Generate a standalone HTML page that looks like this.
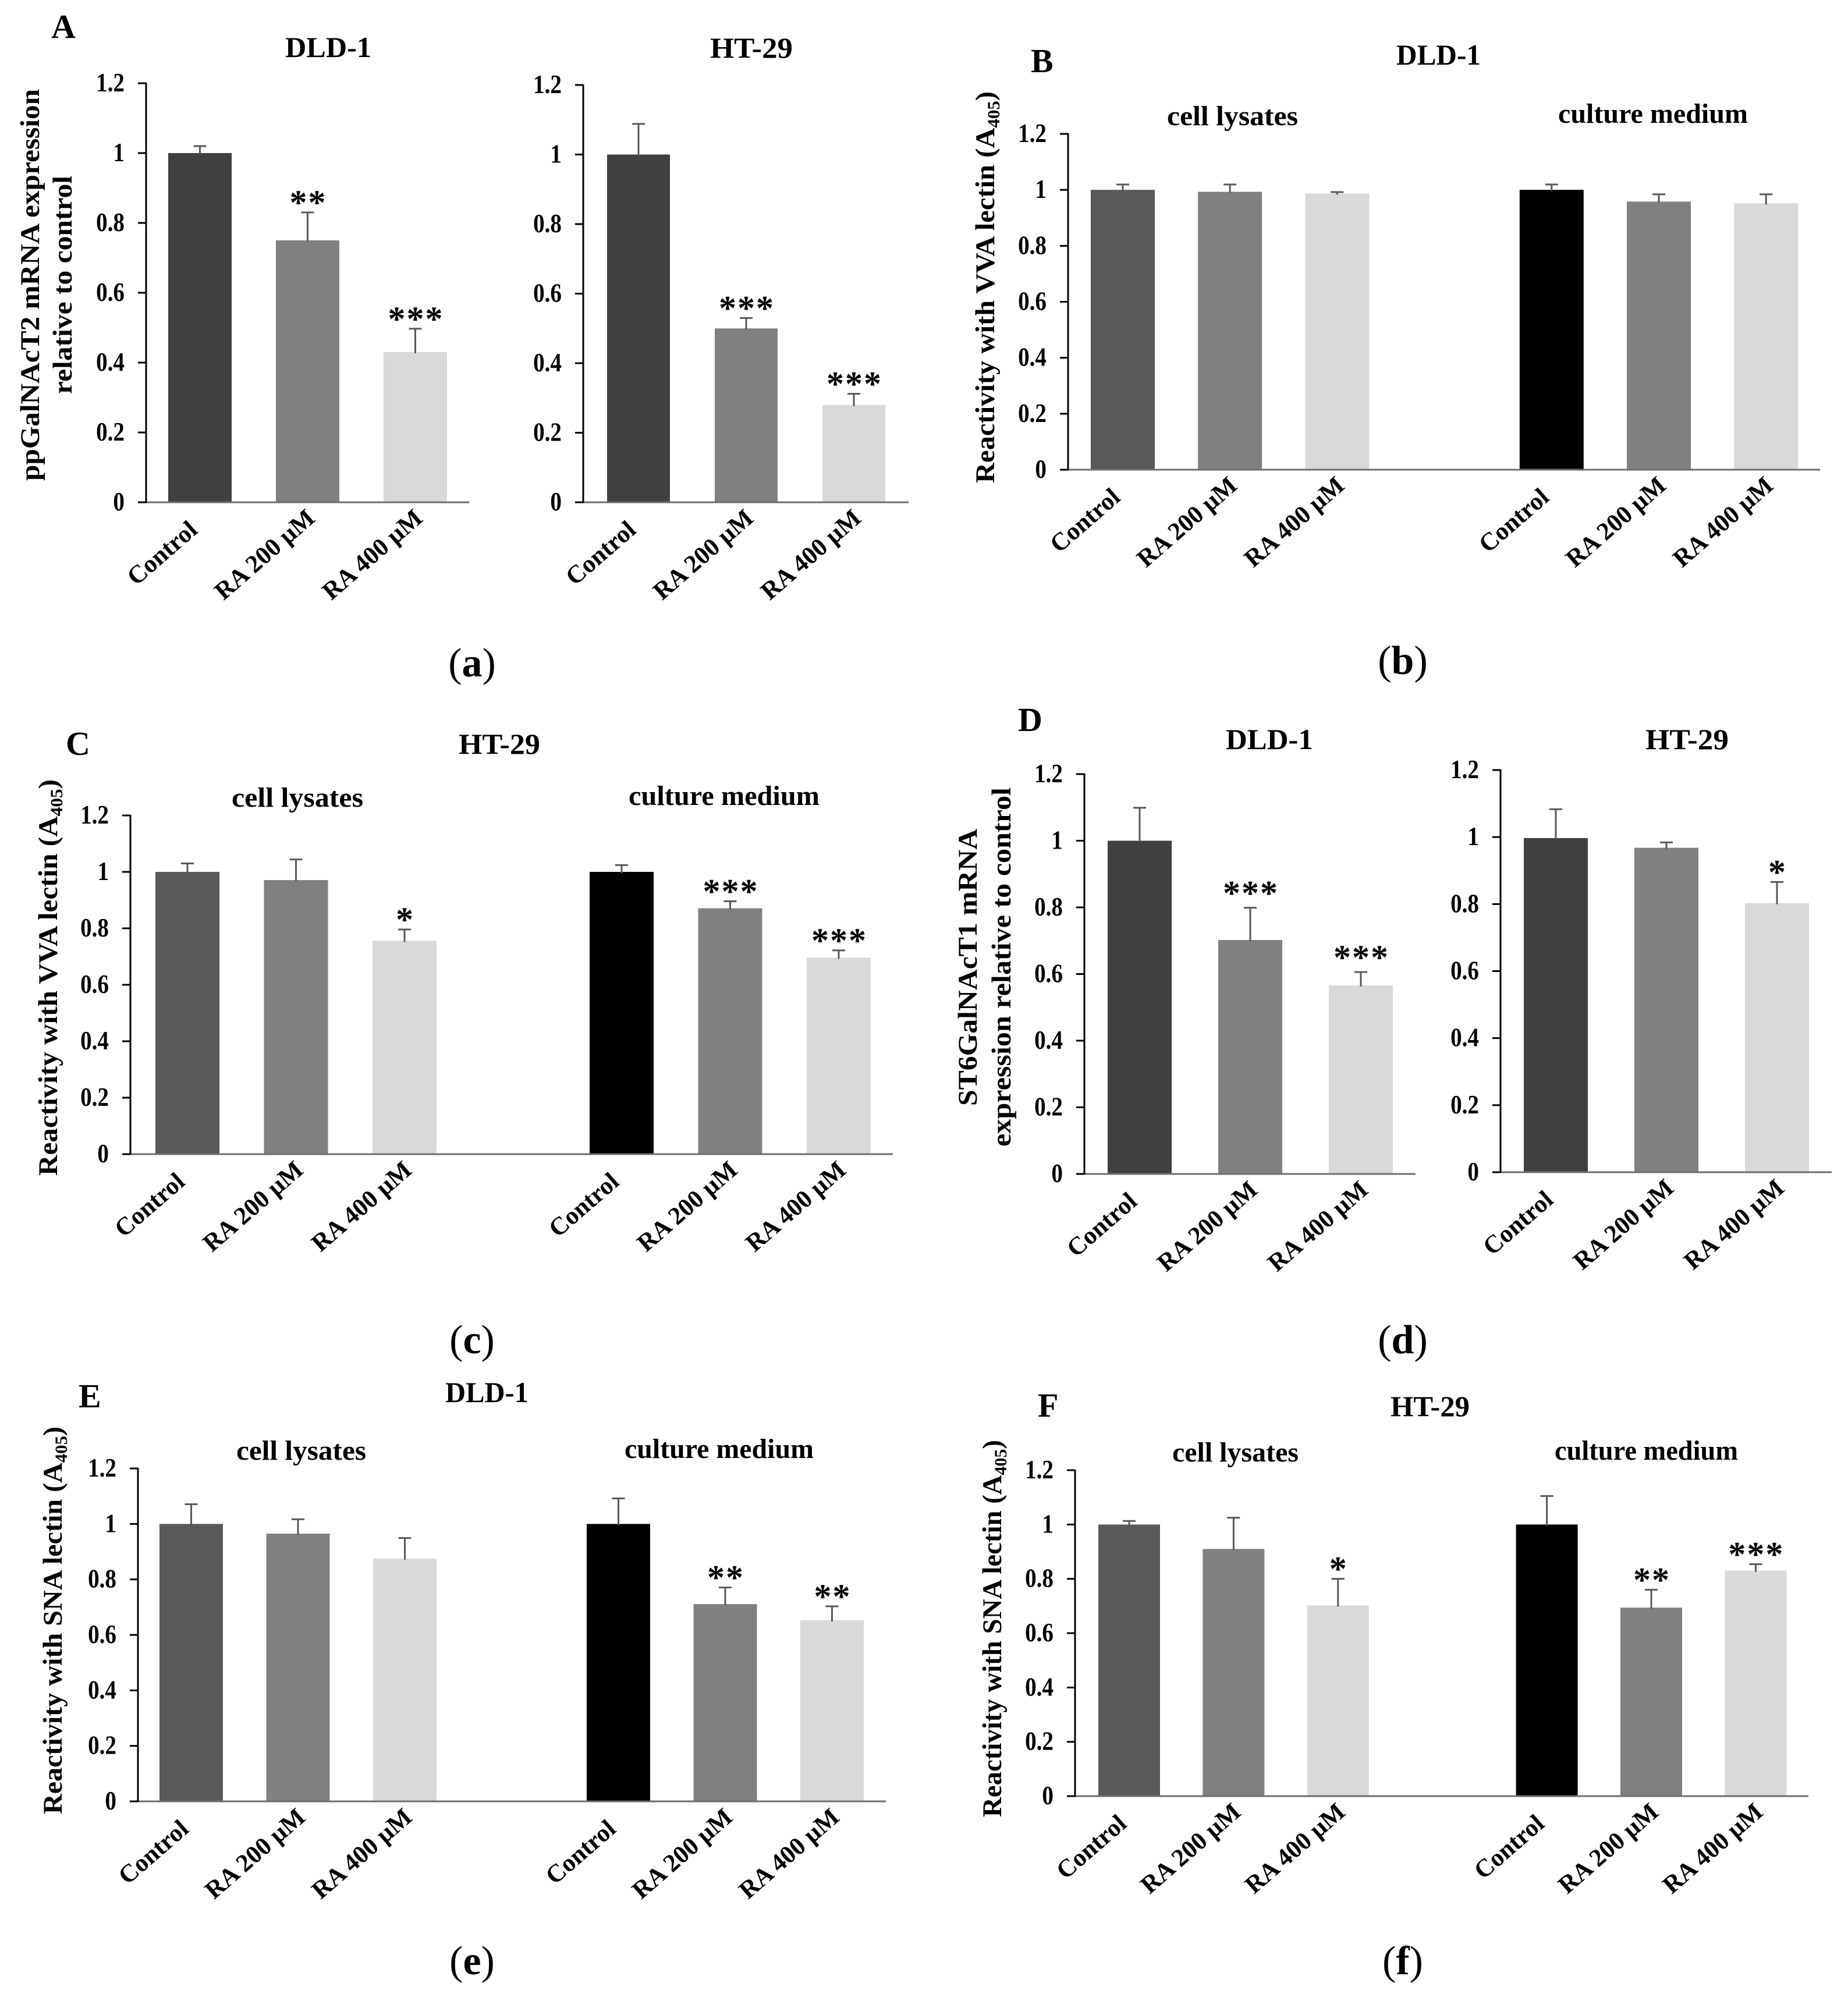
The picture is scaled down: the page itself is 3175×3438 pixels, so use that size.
<!DOCTYPE html>
<html lang="en">
<head>
<meta charset="utf-8">
<title>Bar chart figure panels a-f</title>
<style>
html,body{margin:0;padding:0;background:#fff;}
#figure{display:block;width:3175px;height:3438px;background:#fff;}
text{font-family:"Liberation Serif",serif;font-weight:700;fill:#000;}
.cap{font-size:70px;font-weight:400;}
.cap tspan{font-weight:700;}
.letter{font-size:58px;}
.ttl{font-size:50px;}
.grp{font-size:48px;}
.yt{font-size:47px;}
</style>
</head>
<body>
<svg id="figure" xmlns="http://www.w3.org/2000/svg" width="3175" height="3438" viewBox="0 0 3175 3438">
<rect width="3175" height="3438" fill="#fff"/>
<g id="plots"></g>

<text class="letter" x="88" y="65">A</text>
<text class="letter" x="1771" y="124">B</text>
<text class="letter" x="113" y="1297">C</text>
<text class="letter" x="1749" y="1256">D</text>
<text class="letter" x="135" y="2418">E</text>
<text class="letter" x="1783" y="2434">F</text>

<text class="ttl" x="490" y="98" textLength="148" lengthAdjust="spacingAndGlyphs">DLD-1</text>
<text class="ttl" x="1220" y="99" textLength="142" lengthAdjust="spacingAndGlyphs">HT-29</text>
<text class="ttl" x="2399" y="111" textLength="145" lengthAdjust="spacingAndGlyphs">DLD-1</text>
<text class="ttl" x="788" y="1295" textLength="140" lengthAdjust="spacingAndGlyphs">HT-29</text>
<text class="ttl" x="2106" y="1287" textLength="150" lengthAdjust="spacingAndGlyphs">DLD-1</text>
<text class="ttl" x="2827" y="1287" textLength="143" lengthAdjust="spacingAndGlyphs">HT-29</text>
<text class="ttl" x="765" y="2409" textLength="143" lengthAdjust="spacingAndGlyphs">DLD-1</text>
<text class="ttl" x="2389" y="2433" textLength="136" lengthAdjust="spacingAndGlyphs">HT-29</text>

<text class="grp" x="2005" y="215" textLength="225" lengthAdjust="spacingAndGlyphs">cell lysates</text>
<text class="grp" x="2677" y="211" textLength="326" lengthAdjust="spacingAndGlyphs">culture medium</text>
<text class="grp" x="398" y="1386" textLength="226" lengthAdjust="spacingAndGlyphs">cell lysates</text>
<text class="grp" x="1080" y="1383" textLength="328" lengthAdjust="spacingAndGlyphs">culture medium</text>
<text class="grp" x="406" y="2508" textLength="223" lengthAdjust="spacingAndGlyphs">cell lysates</text>
<text class="grp" x="1073" y="2505" textLength="325" lengthAdjust="spacingAndGlyphs">culture medium</text>
<text class="grp" x="2014" y="2511" textLength="217" lengthAdjust="spacingAndGlyphs">cell lysates</text>
<text class="grp" x="2671" y="2508" textLength="315" lengthAdjust="spacingAndGlyphs">culture medium</text>

<text class="yt" transform="translate(67,826) rotate(-90)" textLength="673" lengthAdjust="spacingAndGlyphs">ppGalNAcT2 mRNA expression</text>
<text class="yt" transform="translate(123,677) rotate(-90)" textLength="375" lengthAdjust="spacingAndGlyphs">relative to control</text>
<text class="yt" transform="translate(1708,830) rotate(-90)" textLength="673" lengthAdjust="spacingAndGlyphs">Reactivity with VVA lectin (A<tspan font-size="30" dy="9">405</tspan><tspan dy="-9">)</tspan></text>
<text class="yt" transform="translate(98,2020) rotate(-90)" textLength="681" lengthAdjust="spacingAndGlyphs">Reactivity with VVA lectin (A<tspan font-size="30" dy="9">405</tspan><tspan dy="-9">)</tspan></text>
<text class="yt" transform="translate(1678,1900) rotate(-90)" textLength="476" lengthAdjust="spacingAndGlyphs">ST6GalNAcT1 mRNA</text>
<text class="yt" transform="translate(1736,1970) rotate(-90)" textLength="617" lengthAdjust="spacingAndGlyphs">expression relative to control</text>
<text class="yt" transform="translate(106,3117) rotate(-90)" textLength="666" lengthAdjust="spacingAndGlyphs">Reactivity with SNA lectin (A<tspan font-size="30" dy="9">405</tspan><tspan dy="-9">)</tspan></text>
<text class="yt" transform="translate(1720,3122) rotate(-90)" textLength="648" lengthAdjust="spacingAndGlyphs">Reactivity with SNA lectin (A<tspan font-size="30" dy="9">405</tspan><tspan dy="-9">)</tspan></text>

<text class="cap" x="811" y="1162" text-anchor="middle">(<tspan>a</tspan>)</text>
<text class="cap" x="2410" y="1158" text-anchor="middle">(<tspan>b</tspan>)</text>
<text class="cap" x="811" y="2325" text-anchor="middle">(<tspan>c</tspan>)</text>
<text class="cap" x="2410" y="2325" text-anchor="middle">(<tspan>d</tspan>)</text>
<text class="cap" x="811" y="3392" text-anchor="middle">(<tspan>e</tspan>)</text>
<text class="cap" x="2410" y="3392" text-anchor="middle">(<tspan>f</tspan>)</text>
</svg>

<script>
// ---- shared chart data ----
const categoriesSingle = ["Control", "RA 200 µM", "RA 400 µM"];
const categoriesPaired = ["Control", "RA 200 µM", "RA 400 µM", "Control", "RA 200 µM", "RA 400 µM"];
const yTickValues = [0, 0.2, 0.4, 0.6, 0.8, 1, 1.2];
const yTickLabels = ["0", "0.2", "0.4", "0.6", "0.8", "1", "1.2"];

// ---- panel A ----
const valuesA1 = [1.0, 0.75, 0.43];
const errorsA1 = [0.02, 0.08, 0.067];
const starsA1 = ["", "**", "***"];
const valuesA2 = [1.0, 0.5, 0.28];
const errorsA2 = [0.088, 0.03, 0.032];
const starsA2 = ["", "***", "***"];

// ---- panel B ----
const valuesB = [1.0, 0.993, 0.987, 1.0, 0.958, 0.952];
const errorsB = [0.019, 0.026, 0.005, 0.019, 0.026, 0.032];
const starsB = ["", "", "", "", "", ""];

// ---- panel C ----
const valuesC = [1.0, 0.971, 0.756, 1.0, 0.871, 0.696];
const errorsC = [0.03, 0.073, 0.04, 0.024, 0.025, 0.026];
const starsC = ["", "", "*", "", "***", "***"];

// ---- panel D ----
const valuesD1 = [1.0, 0.702, 0.566];
const errorsD1 = [0.099, 0.097, 0.04];
const starsD1 = ["", "***", "***"];
const valuesD2 = [0.997, 0.968, 0.803];
const errorsD2 = [0.086, 0.016, 0.063];
const starsD2 = ["", "", "*"];

// ---- panel E ----
const valuesE = [1.0, 0.965, 0.875, 1.0, 0.711, 0.653];
const errorsE = [0.071, 0.052, 0.074, 0.092, 0.06, 0.05];
const starsE = ["", "", "", "", "**", "**"];

// ---- panel F ----
const valuesF = [1.0, 0.91, 0.702, 1.0, 0.694, 0.83];
const errorsF = [0.013, 0.115, 0.098, 0.105, 0.066, 0.024];
const starsF = ["", "", "*", "", "**", "***"];

// ---- bar fills ----
const fillsDark = ["#404040", "#808080", "#d9d9d9"];
const fillsPaired = ["#595959", "#808080", "#d9d9d9", "#000000", "#808080", "#d9d9d9"];

// ---- drawing ----
const SVG_NS = "http://www.w3.org/2000/svg";
const plots = document.getElementById("plots");

function makeEl(parent, tag, attrs) {
  const el = document.createElementNS(SVG_NS, tag);
  for (const k in attrs) el.setAttribute(k, attrs[k]);
  parent.appendChild(el);
  return el;
}

function drawPanel(id, frame, categories, values, errors, stars, fills) {
  const g = makeEl(plots, "g", {});
  
  

  const yScale = function (v) { return frame.y0 - (v / 1.2) * (frame.y0 - frame.top); };
  const slotOf = function (i) { return i < 3 ? i : i + 1; };
  const xScale = function (i) { return frame.start + frame.step * slotOf(i); };
  const starGap = 26 + (frame.starLift || 0);

  categories.forEach(function (cat, i) {
    const left = xScale(i);
    const cx = left + frame.width / 2;
    const topY = yScale(values[i]);
    const errY = yScale(values[i] + errors[i]);

    const bar = makeEl(g, "rect", { x: left, y: topY, width: frame.width, height: frame.y0 - topY, fill: fills[i] });
    
    

    const stem = makeEl(g, "line", { x1: cx, x2: cx, y1: topY + 2, y2: errY, stroke: "#595959", "stroke-width": 3 });
    
    

    const cap = makeEl(g, "line", { x1: cx - 11, x2: cx + 11, y1: errY, y2: errY, stroke: "#595959", "stroke-width": 3 });
    
    

    if (stars[i]) {
      const star = makeEl(g, "text", { x: cx + 1, y: errY - starGap + 29, "text-anchor": "middle", "font-size": 60, "letter-spacing": 2 });
      star.textContent = stars[i];
      
      
    }

    const isControl = cat === "Control";
    const lx = cx + (isControl ? -2 : 15);
    const ly = frame.y0 + (isControl ? 51 : 31);
    const label = makeEl(g, "text", { transform: "translate(" + lx + "," + ly + ") rotate(-41)", "text-anchor": "end", "font-size": 43 });
    label.textContent = cat;
    
    
  });

  yTickValues.forEach(function (v, i) {
    const y = yScale(v);
    const tick = makeEl(g, "line", { x1: frame.axis - 14, x2: frame.axis, y1: y, y2: y, stroke: "#000", "stroke-width": 3 });
    
    

    const label = makeEl(g, "text", { transform: "translate(" + (frame.axis - 37) + "," + (y + 14) + ") scale(0.87,1)", "text-anchor": "end", "font-size": 45 });
    label.textContent = yTickLabels[i];
    
    
  });

  const xAxis = makeEl(g, "line", { x1: frame.axis, x2: frame.end, y1: frame.y0, y2: frame.y0, stroke: "#6e6e6e", "stroke-width": 3 });
  
  

  const yAxis = makeEl(g, "line", { x1: frame.axis, x2: frame.axis, y1: frame.top - 1, y2: frame.y0 + 1, stroke: "#000", "stroke-width": 3 });
  
  
}

drawPanel("a-dld1", { axis: 251, top: 143, y0: 863, end: 806, start: 289, step: 185, width: 109 }, categoriesSingle, valuesA1, errorsA1, starsA1, fillsDark);
drawPanel("a-ht29", { axis: 1002, top: 146, y0: 863, end: 1561, start: 1043, step: 185, width: 108 }, categoriesSingle, valuesA2, errorsA2, starsA2, fillsDark);
drawPanel("b", { axis: 1835, top: 230, y0: 807, end: 3127, start: 1874, step: 184.2, width: 110 }, categoriesPaired, valuesB, errorsB, starsB, fillsPaired);
drawPanel("c", { axis: 224, top: 1401, y0: 1983, end: 1534, start: 267, step: 186.5, width: 110 }, categoriesPaired, valuesC, errorsC, starsC, fillsPaired);
drawPanel("d-dld1", { axis: 1863, top: 1330, y0: 2017, end: 2432, start: 1903, step: 190, width: 110, starLift: 8 }, categoriesSingle, valuesD1, errorsD1, starsD1, fillsDark);
drawPanel("d-ht29", { axis: 2578, top: 1323, y0: 2014, end: 3147, start: 2618, step: 190, width: 110 }, categoriesSingle, valuesD2, errorsD2, starsD2, fillsDark);
drawPanel("e", { axis: 237, top: 2523, y0: 3095, end: 1522, start: 274, step: 183.5, width: 109 }, categoriesPaired, valuesE, errorsE, starsE, fillsPaired);
drawPanel("f", { axis: 1847, top: 2526, y0: 3086, end: 3107, start: 1887, step: 179.4, width: 106 }, categoriesPaired, valuesF, errorsF, starsF, fillsPaired);
</script>
</body>
</html>
